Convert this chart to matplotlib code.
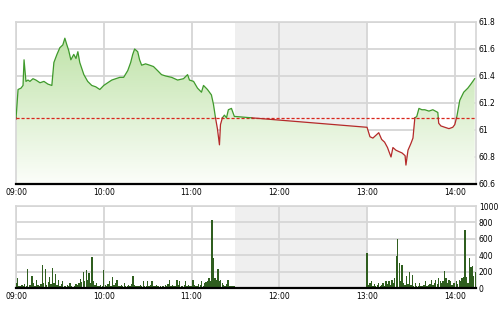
import numpy as np
import matplotlib
matplotlib.use('Agg')
import matplotlib.pyplot as plt
from matplotlib.ticker import FixedLocator, FuncFormatter

# minutes after 09:00 and index value
price_min = [0, 1.4, 3.4, 4.8, 5.5, 6.8, 8.2, 9.5, 11.6, 13.6, 16.4, 19.1, 21.8, 24.5,
             25.9, 28, 30, 32, 33.4, 34.8, 36, 37.5, 39.5, 41, 42.3, 43.6, 46.4, 49,
             51.8, 54.5, 57.3, 60, 62.7, 65.5, 68.2, 71, 73.6, 76.4, 78.4, 79.8, 81.1,
             83.2, 84.5, 85.9, 88.6, 91.4, 94, 96.8, 99.5, 102.3, 106.4, 110.5, 114.5,
             117.3, 118.6, 121.4, 124.1, 126.8, 128.2, 130.9, 133.6, 135, 136.4, 137.7,
             139.1, 139.8, 141.1, 142.5, 143.9, 145.2, 147.3, 149.3, 150,
             240, 242, 244, 246, 248, 250, 252, 254, 255, 256.4, 257.7, 259.8, 261.8,
             263.9, 266, 266.6, 268, 270, 271.4, 272.7, 274, 275.5, 277.5, 279.5, 282.3,
             285, 288.4, 289, 290.5, 293.2, 296, 298.6, 300, 301.4, 303.4, 306.1, 308.9,
             311, 313.6]
price = [61.08, 61.30, 61.31, 61.33, 61.52, 61.36, 61.37, 61.36, 61.38, 61.37, 61.35,
         61.36, 61.34, 61.33, 61.50, 61.56, 61.61, 61.63, 61.68, 61.63, 61.59, 61.52,
         61.56, 61.53, 61.58, 61.50, 61.41, 61.36, 61.33, 61.32, 61.30, 61.33, 61.35,
         61.37, 61.38, 61.39, 61.39, 61.44, 61.50, 61.56, 61.60, 61.58, 61.52, 61.48,
         61.49, 61.48, 61.47, 61.44, 61.41, 61.40, 61.39, 61.37, 61.38, 61.41, 61.37,
         61.36, 61.31, 61.28, 61.33, 61.30, 61.26, 61.19, 61.09, 61.01, 60.89, 61.04,
         61.09, 61.11, 61.09, 61.15, 61.16, 61.10, 61.10,
         61.02, 60.95, 60.94, 60.96, 60.98, 60.93, 60.91, 60.87, 60.84, 60.80, 60.87,
         60.85, 60.84, 60.83, 60.81, 60.74, 60.85, 60.90, 60.94, 61.09, 61.10, 61.16,
         61.15, 61.15, 61.14, 61.15, 61.13, 61.05, 61.03, 61.02, 61.01, 61.02, 61.04,
         61.10, 61.22, 61.28, 61.31, 61.34, 61.38]
ref_price = 61.09

# volume per minute, morning session from 09:00, afternoon from 13:00
vol_am = [60, 120, 30, 20, 40, 25, 50, 30, 230, 40,
          35, 150, 60, 30, 100, 40, 30, 50, 280, 60,
          230, 40, 70, 135, 50, 240, 60, 170, 40, 100,
          30, 50, 80, 25, 20, 40, 30, 60, 20, 15,
          30, 50, 40, 60, 110, 70, 195, 90, 215, 100,
          180, 60, 375, 90, 40, 60, 30, 20, 40, 30,
          215, 40, 30, 50, 80, 30, 130, 40, 60, 100,
          30, 20, 40, 30, 60, 20, 30, 40, 30, 50,
          150, 40, 30, 20, 30, 40, 20, 80, 30, 20,
          90, 30, 40, 80, 20, 30, 40, 20, 15, 30,
          20, 30, 40, 30, 50, 100, 30, 40, 20, 30,
          100, 40, 80, 30, 20, 40, 90, 30, 40, 20,
          30, 100, 40, 30, 20, 50, 40, 80, 30, 60,
          70, 90, 120, 80, 830, 365, 120, 100, 230, 80,
          100, 60, 40, 30, 50, 100, 30, 20, 30, 20]
vol_pm = [425, 40, 60, 80, 30, 50, 20, 40, 60, 30,
          40, 60, 30, 80, 50, 90, 40, 100, 60, 120,
          390, 600, 300, 80, 280, 60, 40, 150, 50, 200,
          40, 160, 30, 60, 20, 30, 60, 20, 30, 40,
          80, 30, 40, 50, 100, 40, 60, 100, 50, 120,
          80, 60, 90, 205, 120, 60, 100, 80, 40, 60,
          60, 90, 50, 100, 80, 120, 140, 710, 130, 60,
          370, 260, 270, 150, 200]

hour_ticks = [0, 60, 120, 180, 240, 300]
hour_labels = ['09:00', '10:00', '11:00', '12:00', '13:00', '14:00']
price_ticks = [60.6, 60.8, 61.0, 61.2, 61.4, 61.6, 61.8]
vol_ticks = [0, 200, 400, 600, 800, 1000]

xmax = 314.5
grid_c = '#d6d6d6'
lunch_c = '#efefef'

fig = plt.figure(figsize=(5, 3.12), dpi=100)
ax1 = fig.add_axes([0.032, 0.4103, 0.92, 0.5192])
ax2 = fig.add_axes([0.032, 0.0769, 0.92, 0.2628])


def style(ax, yticks, ymin, ymax, fmt):
    ax.set_xlim(0, xmax)
    ax.set_ylim(ymin, ymax)
    ax.axvspan(150, 240, color=lunch_c, zorder=0, lw=0)
    ax.xaxis.set_major_locator(FixedLocator(hour_ticks))
    ax.set_xticklabels(hour_labels)
    ax.yaxis.set_major_locator(FixedLocator(yticks))
    ax.yaxis.set_major_formatter(FuncFormatter(fmt))
    ax.yaxis.tick_right()
    ax.tick_params(length=0, labelsize=5.5, colors='black', pad=2)
    ax.tick_params(axis='x', pad=3)
    ax.grid(True, color=grid_c, lw=1.3, zorder=1)
    for s in ['left', 'top', 'right']:
        ax.spines[s].set_color(grid_c)
        ax.spines[s].set_linewidth(1.2)
    ax.spines['bottom'].set_color('black')
    ax.spines['bottom'].set_linewidth(1.6)
    ax.spines['bottom'].set_zorder(5)


style(ax1, price_ticks, 60.6, 61.8, lambda v, p: '%g' % round(v, 1))
style(ax2, vol_ticks, 0, 1000, lambda v, p: '%d' % v)

# price area with vertical gradient
t = np.array(price_min)
p = np.array(price)
poly = ax1.fill_between(t, p, 60.6, color='none', lw=0)
grad = np.linspace(0, 1, 256).reshape(-1, 1)
top_c = np.array([185, 224, 160]) / 255
bot_c = np.array([252, 254, 250]) / 255
img = top_c * (1 - grad[..., None]) + bot_c * grad[..., None]
im = ax1.imshow(img, extent=[0, xmax, 60.6, 61.8], aspect='auto', origin='upper', zorder=2)
im.set_clip_path(poly.get_paths()[0], transform=ax1.transData)

# split the line where it crosses the reference
tt, pp = [t[0]], [p[0]]
for i in range(1, len(t)):
    a, b = p[i - 1] - ref_price, p[i] - ref_price
    if a * b < 0:
        f = a / (a - b)
        tt.append(t[i - 1] + f * (t[i] - t[i - 1]))
        pp.append(ref_price)
    tt.append(t[i])
    pp.append(p[i])
tt, pp = np.array(tt), np.array(pp)
up = np.where(pp >= ref_price - 1e-9, pp, np.nan)
dn = np.where(pp <= ref_price + 1e-9, pp, np.nan)
ax1.plot(tt, up, color='#3f9a2c', lw=0.9, zorder=4)
ax1.plot(tt, dn, color='#b52a2a', lw=0.9, zorder=4)
ax1.axhline(ref_price, color='#d9261c', lw=0.9, ls=(0, (2.5, 1.5)), zorder=3)

# volume bars
am_x = np.arange(len(vol_am))
pm_x = 240 + np.arange(len(vol_pm))
ax2.bar(am_x, vol_am, width=0.9, color='#2f5e1f', lw=0, zorder=3)
ax2.bar(pm_x, vol_pm, width=0.9, color='#2f5e1f', lw=0, zorder=3)

fig.savefig('out.png', dpi=100, facecolor='white')
